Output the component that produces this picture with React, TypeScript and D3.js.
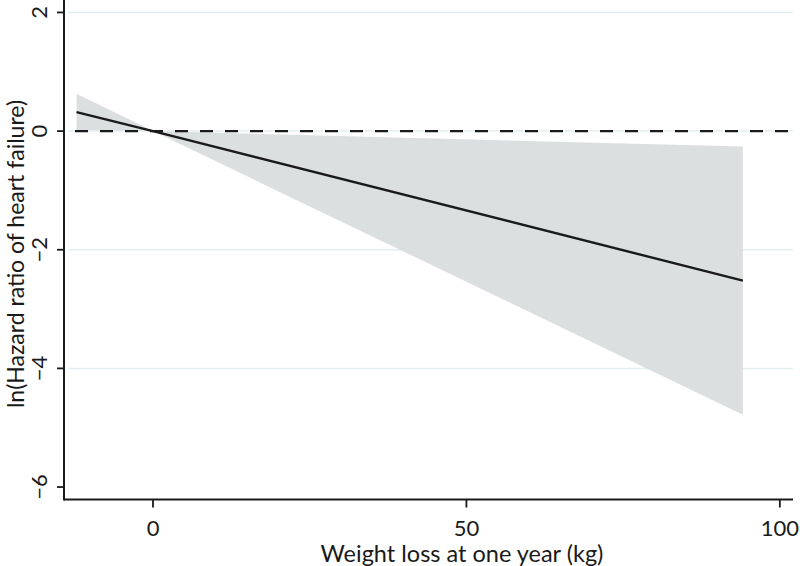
import React from "react";
import * as d3 from "d3";

const bandX = [-12.2, 0, 94.1];
const upperValues = [0.63, 0, -0.26];
const lowerValues = [0.02, 0, -4.78];
const fitX = [-12.2, 0, 94.1];
const fitValues = [0.32, 0, -2.52];
const xTicks = [0, 50, 100];
const yTicks = [2, 0, -2, -4, -6];
const gridTicks = [2, -2, -4];
const xTitle = "Weight loss at one year (kg)";
const yTitle = "ln(Hazard ratio of heart failure)";

const W = 800;
const H = 566;
const FONT = "Lato, 'Open Sans', sans-serif";

export default function App() {
  const x = d3.scaleLinear().domain([-14.2, 102.1]).range([64, 793]);
  const y = d3.scaleLinear().domain([-6.21, 2.21]).range([499.5, 0]);

  const band = bandX.map((v, i) => ({ x: v, lo: lowerValues[i], hi: upperValues[i] }));
  const area = d3
    .area<{ x: number; lo: number; hi: number }>()
    .x((d) => x(d.x))
    .y0((d) => y(d.lo))
    .y1((d) => y(d.hi));
  const fit = fitX.map((v, i) => ({ x: v, y: fitValues[i] }));
  const line = d3
    .line<{ x: number; y: number }>()
    .x((d) => x(d.x))
    .y((d) => y(d.y));

  const x0 = x.range()[0];
  const x1 = x.range()[1];
  const yBase = y.range()[0];

  return (
    <svg width={W} height={H} style={{ position: "absolute", left: 0, top: 0 }}>
      <rect width={W} height={H} fill="#ffffff" />
      {gridTicks.map((t) => (
        <line key={t} x1={x0 + 4} x2={x1} y1={y(t)} y2={y(t)} stroke="#e2eef0" strokeWidth={1.5} />
      ))}
      <line x1={x0 + 4} x2={x1} y1={y(0)} y2={y(0)} stroke="#e2eef0" strokeWidth={1.5} />
      <path d={area(band) || ""} fill="#dcdfe0" />
      <line
        x1={x0 + 5}
        x2={x1}
        y1={y(0)}
        y2={y(0)}
        stroke="#1a1a1a"
        strokeWidth={2.2}
        strokeDasharray="13 12"
        strokeDashoffset={-6}
      />
      <path d={line(fit) || ""} fill="none" stroke="#1a1a1a" strokeWidth={2.4} />
      <line x1={x0} x2={x0} y1={0} y2={yBase + 1} stroke="#1a1a1a" strokeWidth={2} />
      <line x1={x0} x2={x1} y1={yBase} y2={yBase} stroke="#1a1a1a" strokeWidth={2} />
      {yTicks.map((t) => (
        <g key={t}>
          <line x1={x0 - 7} x2={x0} y1={y(t)} y2={y(t)} stroke="#1a1a1a" strokeWidth={1.8} />
          <text
            transform={`translate(${x0 - 25.5},${y(t)}) rotate(-90)`}
            textAnchor="middle"
            dominantBaseline="central"
            fontFamily={FONT}
            fontSize={22}
            fill="#1a1a1a"
          >
            {t < 0 ? `\u2212${Math.abs(t)}` : `${t}`}
          </text>
        </g>
      ))}
      {xTicks.map((t) => (
        <g key={t}>
          <line x1={x(t)} x2={x(t)} y1={yBase} y2={yBase + 8} stroke="#1a1a1a" strokeWidth={1.8} />
          <text
            x={x(t)}
            y={yBase + 28}
            textAnchor="middle"
            dominantBaseline="central"
            fontFamily={FONT}
            fontSize={22}
            fill="#1a1a1a"
          >
            {t}
          </text>
        </g>
      ))}
      <text
        x={462}
        y={562}
        textAnchor="middle"
        fontFamily={FONT}
        fontSize={23.5}
        fill="#1a1a1a"
      >
        {xTitle}
      </text>
      <text
        transform={`translate(23.5,${254}) rotate(-90)`}
        textAnchor="middle"
        fontFamily={FONT}
        fontSize={23}
        fill="#1a1a1a"
      >
        {yTitle}
      </text>
    </svg>
  );
}
